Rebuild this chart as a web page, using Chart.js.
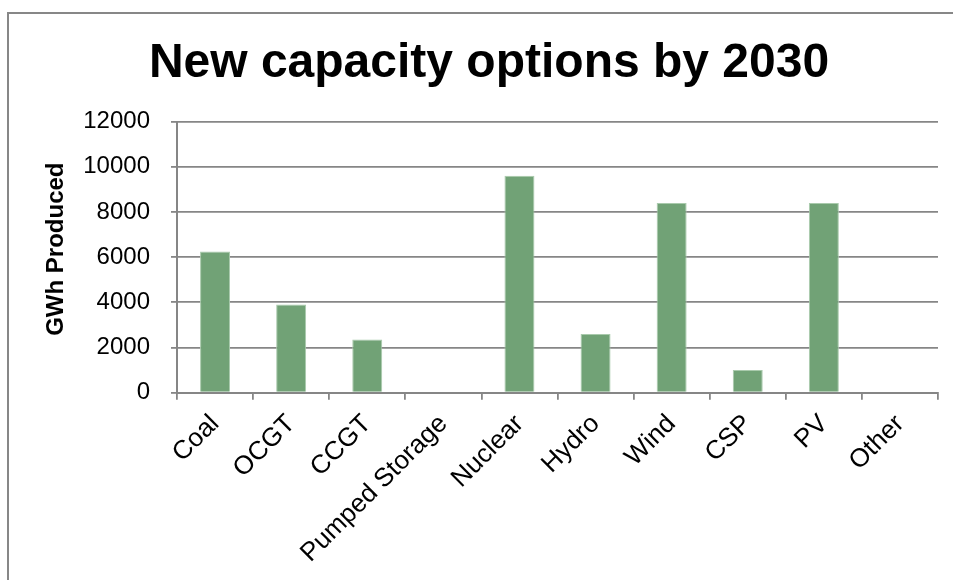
<!DOCTYPE html>
<html>
<head>
<meta charset="utf-8">
<script src="https://cdn.jsdelivr.net/npm/chart.js@4/dist/chart.umd.min.js"></script>
<style>
  html, body { margin: 0; padding: 0; background: #fff; overflow: hidden; }
  #wrap { position: relative; width: 953px; height: 580px; }
  #frame { position: absolute; left: 7px; top: 12px; width: 2000px; height: 2000px;
           border: 2px solid #878787; box-sizing: border-box; }
  #c { position: absolute; left: 0; top: 0; }
</style>
</head>
<body>
<div id="wrap">
  <div id="frame"></div>
  <canvas id="c" width="953" height="580"></canvas>
</div>
<script>
// Generation technologies and the energy each is expected to deliver (GWh)
const technologies = ['Coal', 'OCGT', 'CCGT', 'Pumped Storage', 'Nuclear', 'Hydro', 'Wind', 'CSP', 'PV', 'Other'];
const gwhProduced = [6250, 3900, 2360, 0, 9600, 2600, 8400, 1000, 8400, 0];

const chartTitle = 'New capacity options by 2030';
const yAxisTitle = 'GWh Produced';
const yMin = 0, yMax = 12000, yStep = 2000;

const FONT = "'Liberation Sans', Arial, sans-serif";
const AXIS_GREY = '#868686';

// Vertical axis caption, drawn beside the value axis and centred a little above the plot middle
const yCaption = {
  id: 'yCaption',
  afterDraw(chart) {
    const { ctx, chartArea } = chart;
    ctx.save();
    ctx.translate(56, (chartArea.top + chartArea.bottom) / 2 - 8);
    ctx.rotate(-Math.PI / 2);
    ctx.font = "bold 24px " + FONT;
    ctx.fillStyle = '#000';
    ctx.textAlign = 'center';
    ctx.textBaseline = 'middle';
    ctx.fillText(yAxisTitle, 0, 0);
    ctx.restore();
  }
};

new Chart(document.getElementById('c'), {
  type: 'bar',
  data: {
    labels: technologies,
    datasets: [{
      data: gwhProduced,
      backgroundColor: '#71a276',
      borderColor: '#a9caac',
      borderWidth: 1,
      barPercentage: 0.394,
      categoryPercentage: 1.0
    }]
  },
  plugins: [yCaption],
  options: {
    responsive: false,
    animation: false,
    layout: { padding: { left: 25, right: 0, top: 0, bottom: 0 } },
    plugins: {
      legend: { display: false },
      tooltip: { enabled: false },
      title: {
        display: true,
        text: chartTitle,
        color: '#000',
        font: { family: FONT, size: 48, weight: 'bold', lineHeight: 1.2 },
        padding: { top: 35, bottom: 29 }
      }
    },
    scales: {
      x: {
        grid: {
          display: true,
          drawOnChartArea: false,
          drawTicks: true,
          tickLength: 7,
          color: AXIS_GREY,
          lineWidth: 1.8
        },
        border: { display: true, color: AXIS_GREY, width: 2 },
        ticks: {
          color: '#000',
          font: { family: FONT, size: 26 },
          minRotation: 45,
          maxRotation: 45,
          padding: 9,
          autoSkip: false
        },
        afterFit(scale) { scale.height = 187.3; }
      },
      y: {
        min: yMin,
        max: yMax,
        grid: {
          color: AXIS_GREY,
          lineWidth: 1.8,
          drawTicks: true,
          tickLength: 6
        },
        border: { display: true, color: AXIS_GREY, width: 2 },
        ticks: {
          stepSize: yStep,
          color: '#000',
          font: { family: FONT, size: 24 },
          padding: 21,
          callback: (v) => String(v)
        },
        afterFit(scale) { scale.width = 152; }
      },
      // empty strip on the right edge of the plot
      yRight: {
        type: 'linear',
        position: 'right',
        grid: { drawOnChartArea: false, drawTicks: false },
        border: { display: false },
        ticks: { display: false },
        afterFit(scale) { scale.width = 15; }
      }
    }
  }
});
</script>
</body>
</html>
